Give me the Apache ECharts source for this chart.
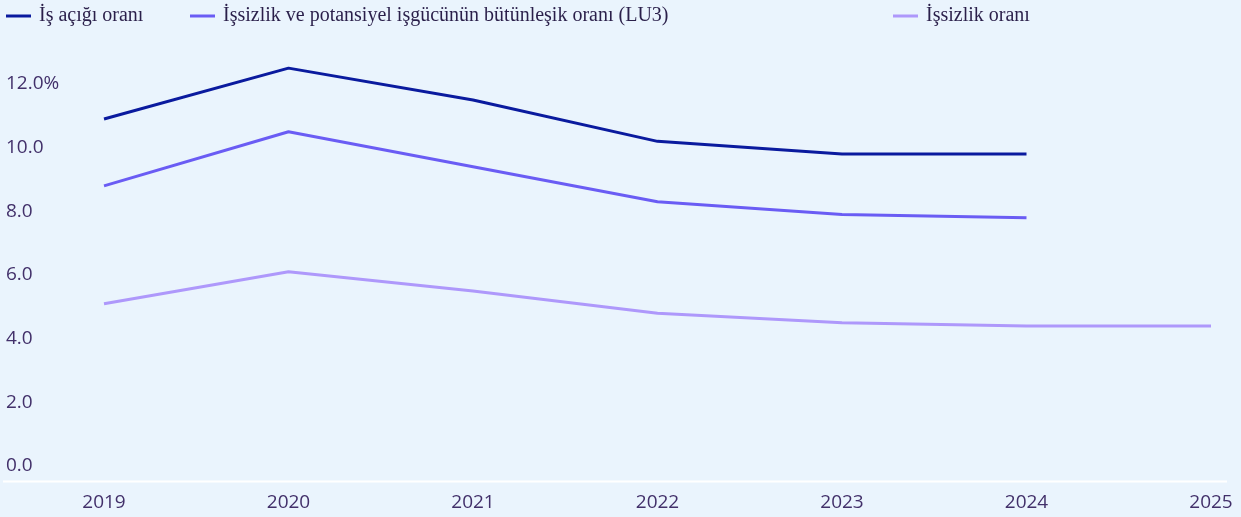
<!DOCTYPE html>
<html><head><meta charset="utf-8">
<script src="https://cdn.jsdelivr.net/npm/echarts@6/dist/echarts.min.js"></script>
<style>html,body{margin:0;padding:0;background:#eaf4fd}#c{width:1241px;height:517px}</style>
</head><body><div id="c"></div>
<script>
const years = ['2019','2020','2021','2022','2023','2024','2025'];
const isAcigi = [10.9, 12.5, 11.5, 10.2, 9.8, 9.8, null];
const lu3 = [8.8, 10.5, 9.4, 8.3, 7.9, 7.8, null];
const issizlik = [5.1, 6.1, 5.5, 4.8, 4.5, 4.4, 4.4];
const names = ['İş açığı oranı', 'İşsizlik ve potansiyel işgücünün bütünleşik oranı (LU3)', 'İşsizlik oranı'];
const colors = ['#0a1a9e', '#6a5cf4', '#ae98fb'];

const chart = echarts.init(document.getElementById('c'));
const legendText = {fontFamily: '"Liberation Serif", serif', fontSize: 20, color: '#2a1f4a', padding: [0, 0, 0, 3]};
function leg(name, left) {
  return {data: [name], left: left, top: 6, itemWidth: 25, itemHeight: 3, itemGap: 0,
    icon: 'rect', textStyle: legendText, padding: 0};
}
const labelColor = '#42306a';
chart.setOption({
  backgroundColor: '#eaf4fd',
  animation: false,
  legend: [leg(names[0], 6), leg(names[1], 190), leg(names[2], 893)],
  grid: {left: 104, right: 30, top: 20.4, bottom: 51},
  xAxis: {
    type: 'category', data: years, boundaryGap: false, offset: 15,
    axisLine: {show: false}, axisTick: {show: false},
    axisLabel: {fontFamily: '"Open Sans", sans-serif', fontSize: 19, color: labelColor, margin: 12}
  },
  yAxis: {
    type: 'value', min: 0, max: 14, interval: 2,
    splitLine: {show: false}, axisLine: {show: false}, axisTick: {show: false},
    axisLabel: {showMaxLabel: false, align: 'left', margin: 98,
      fontFamily: '"Open Sans", sans-serif', fontSize: 19, color: labelColor,
      formatter: v => v === 12 ? v.toFixed(1) + '%' : v.toFixed(1)}
  },
  graphic: [{type: 'line', shape: {x1: 3, y1: 481.5, x2: 1227, y2: 481.5}, style: {stroke: '#ffffff', lineWidth: 2}, z: 0}],
  series: [isAcigi, lu3, issizlik].map((d, i) => ({
    name: names[i], type: 'line', data: d, showSymbol: false, symbol: 'none',
    lineStyle: {color: colors[i], width: 3}, itemStyle: {color: colors[i]}, clip: false
  }))
});
</script></body></html>
